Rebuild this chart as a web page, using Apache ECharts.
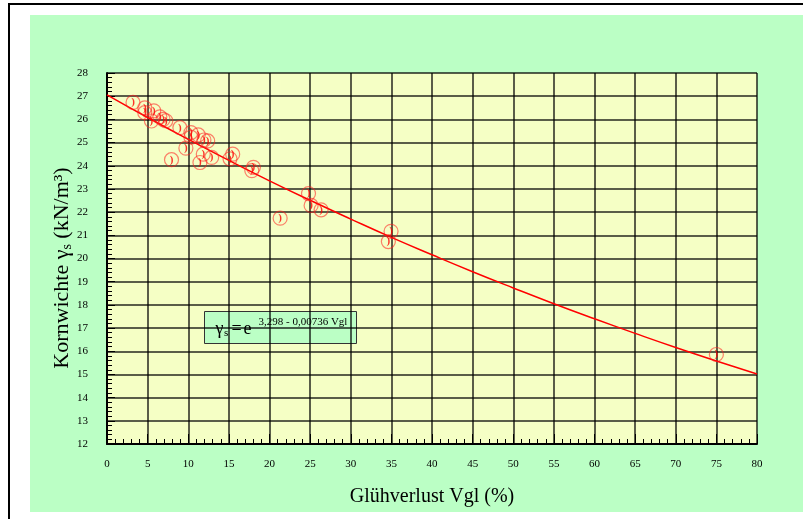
<!DOCTYPE html>
<html>
<head>
<meta charset="utf-8">
<script src="https://cdn.jsdelivr.net/npm/echarts@6/dist/echarts.min.js"></script>
<style>
  html, body { margin: 0; padding: 0; background: #fff; }
  #main { width: 803px; height: 519px; }
</style>
</head>
<body>
<div id="main"></div>
<script>
// Messpunkte (Glühverlust %, Kornwichte kN/m3)
var vglValues = [3.2, 4.65, 4.65, 5.76, 5.47, 6.5, 6.9, 7.24, 8.97, 10.33, 10.33, 11.23, 11.93, 12.39,
  9.71, 7.94, 11.85, 11.44, 12.88, 15.14, 15.47, 18.02, 17.82,
  21.31, 24.8, 25.12, 26.35, 34.96, 34.63, 75.0];
var gammaValues = [26.73, 26.5, 26.29, 26.37, 25.93, 26.11, 26.0, 25.94, 25.64, 25.43, 25.23, 25.33, 25.11, 25.07,
  24.76, 24.26, 24.5, 24.14, 24.36, 24.3, 24.5, 23.93, 23.79,
  21.74, 22.8, 22.29, 22.1, 21.17, 20.73, 15.86];

var fitX = [0, 5, 10, 15, 20, 25, 30, 35, 40, 45, 50, 55, 60, 65, 70, 75, 80];
var fitY = [27.06, 26.08, 25.14, 24.23, 23.35, 22.51, 21.70, 20.91, 20.16, 19.43, 18.73, 18.05, 17.40, 16.77, 16.16, 15.58, 15.02];

var points = [];
for (var i = 0; i < vglValues.length; i++) {
    points.push([vglValues[i], gammaValues[i]]);
}
var fitLine = [];
for (var j = 0; j < fitX.length; j++) {
    fitLine.push([fitX[j], fitY[j]]);
}

var serif = '"Liberation Serif", "DejaVu Serif", serif';

function boxText(txt, x, y, size) {
    return {type: 'text', x: x, y: y, style: {text: txt, fontFamily: serif, fontSize: size, fill: '#000', verticalAlign: 'top'}};
}

var chart = echarts.init(document.getElementById('main'));
var option = {
    backgroundColor: '#ffffff',
    animation: false,
    graphic: [
        // Rahmen und grüne Fläche
        {type: 'rect', shape: {x: 9, y: 4, width: 810, height: 530}, style: {fill: 'none', stroke: '#000', lineWidth: 2}, z: -10},
        {type: 'rect', shape: {x: 30, y: 15, width: 790, height: 497}, style: {fill: '#bbffc5'}, z: -9},
        // y-Achsentitel mit tiefgestelltem s
        {
            type: 'text', x: 62, y: 268, rotation: Math.PI / 2, z: 100,
            style: {
                text: '{t|Kornwichte γ}{s|s}{t| (kN/m³)}',
                align: 'center', verticalAlign: 'middle',
                rich: {
                    t: {fontFamily: serif, fontSize: 22, fill: '#000', lineHeight: 26},
                    s: {fontFamily: serif, fontSize: 14, fill: '#000', lineHeight: 26, padding: [10, 0, 0, 0]}
                }
            }
        },
        // Formelkasten
        {
            type: 'group', left: 204, top: 311, z: 100,
            children: [
                {type: 'rect', shape: {x: 0, y: 0, width: 152, height: 32}, style: {fill: '#bbffc5', stroke: '#333', lineWidth: 1}},
                boxText('γ', 11, 9, 18),
                boxText('s', 19.5, 16, 11),
                boxText('=', 27, 9, 18),
                boxText('e', 39, 9, 18),
                boxText('3,298 - 0,00736 Vgl', 54, 5, 11)
            ]
        }
    ],
    grid: {
        left: 107, right: 46, top: 73, bottom: 75,
        show: true, backgroundColor: '#f5ffc5', borderWidth: 0
    },
    xAxis: {
        type: 'value', min: 0, max: 80, interval: 5,
        name: 'Glühverlust Vgl (%)', nameLocation: 'middle', nameGap: 43,
        nameTextStyle: {fontFamily: serif, fontSize: 20, color: '#000'},
        axisLine: {onZero: false, lineStyle: {color: '#000', width: 2}},
        axisTick: {inside: true, length: 10, lineStyle: {color: '#000', width: 1}},
        minorTick: {show: true, splitNumber: 5, length: 5, lineStyle: {color: '#000', width: 1}},
        axisLabel: {fontFamily: serif, fontSize: 11, color: '#000', margin: 15},
        splitLine: {show: true, lineStyle: {color: 'rgba(0,0,0,0.85)', width: 1.5}}
    },
    yAxis: {
        type: 'value', min: 12, max: 28, interval: 1,
        axisLine: {onZero: false, lineStyle: {color: '#000', width: 2}},
        axisTick: {inside: true, length: 8, lineStyle: {color: '#000', width: 1}},
        minorTick: {show: true, splitNumber: 5, length: 5, lineStyle: {color: '#000', width: 1}},
        axisLabel: {fontFamily: serif, fontSize: 11, color: '#000', margin: 19},
        splitLine: {show: true, lineStyle: {color: 'rgba(0,0,0,0.85)', width: 1.5}}
    },
    series: [
        {
            type: 'line',
            data: fitLine,
            smooth: true,
            symbol: 'none',
            lineStyle: {color: '#ff0000', width: 1.5},
            z: 3
        },
        {
            type: 'scatter',
            data: points,
            symbol: 'circle',
            symbolSize: 14,
            itemStyle: {color: 'rgba(255,0,0,0)', borderColor: 'rgba(255,30,30,0.7)', borderWidth: 1.2},
            label: {
                show: true, position: 'inside', formatter: ')',
                fontFamily: serif, fontWeight: 'bold', fontSize: 11, color: '#ff0000'
            },
            z: 4
        }
    ]
};
chart.setOption(option);
</script>
</body>
</html>
